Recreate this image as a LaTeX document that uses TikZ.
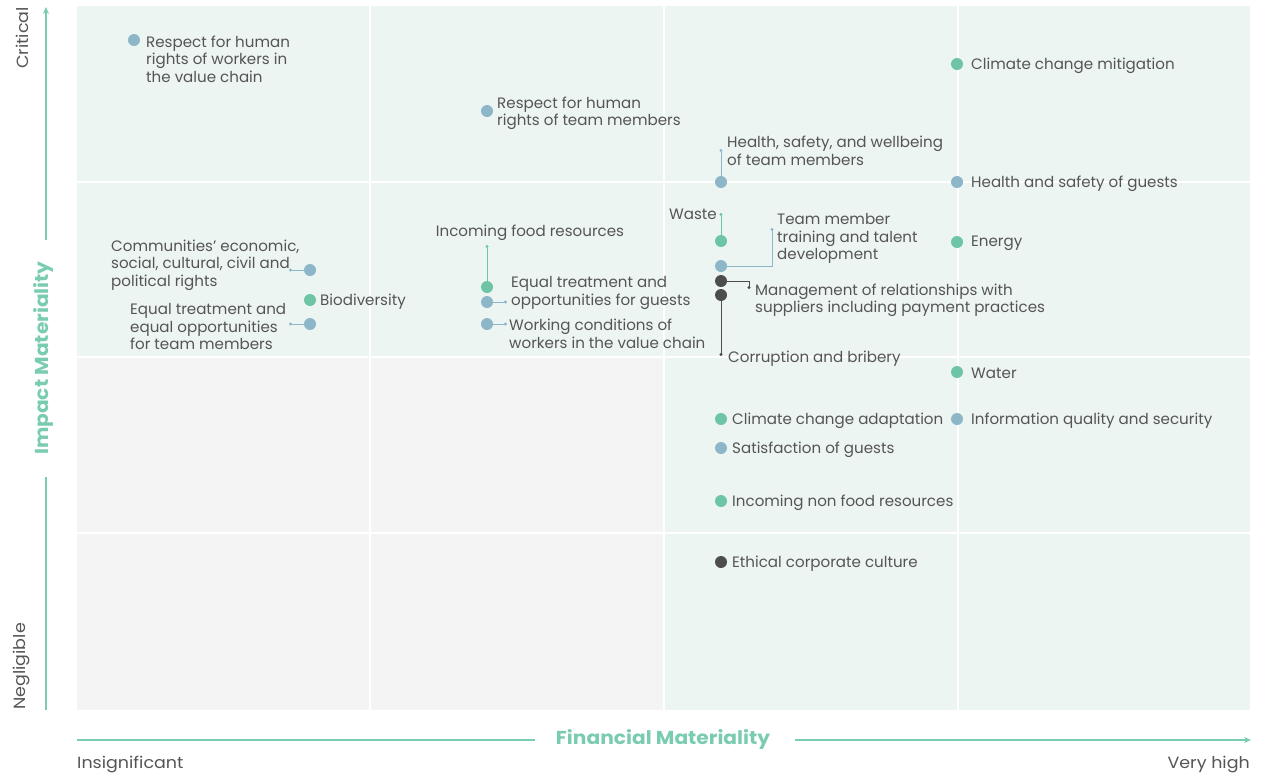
\documentclass[tikz,border=0pt]{standalone}
\usepackage{fontspec}
\setmainfont{Poppins}
\newfontfamily\axfont{Poppins}[FakeStretch=1.08]
\usetikzlibrary{arrows.meta}
\definecolor{bggreen}{HTML}{EDF5F2}
\definecolor{bggray}{HTML}{F4F4F4}
\definecolor{dotgreen}{HTML}{6DC5A5}
\definecolor{dotblue}{HTML}{8DB6C9}
\definecolor{dotdark}{HTML}{4D4D4F}
\definecolor{axisgreen}{HTML}{7ACCB0}
\definecolor{txt}{HTML}{555555}
\tikzset{
  dot/.style={circle,inner sep=0pt,minimum size=12pt},
  gdot/.style={dot,fill=dotgreen},
  bdot/.style={dot,fill=dotblue},
  kdot/.style={dot,fill=dotdark},
  lbl/.style={inner sep=0pt,text=txt,font=\fontsize{15.1}{17.5}\selectfont,align=left,yshift=-1.5pt},
  conn/.style={line width=1pt,-{Circle[length=3pt]}},
  axlbl/.style={inner sep=0pt,text=txt,font=\axfont\fontsize{16.2}{18}\selectfont},
  axtitle/.style={inner sep=0pt,text=axisgreen,font=\axfont\fontsize{18.7}{20}\selectfont\bfseries},
}
\begin{document}
\begin{tikzpicture}[x=1pt,y=-1pt]
\useasboundingbox (0,0) rectangle (1268,772);
% background
\fill[bggreen] (77,6) rectangle (1250,710);
\fill[bggray] (77,357) rectangle (664,710);
\foreach \x in {370,664,958} \draw[white,line width=2pt] (\x,6) -- (\x,710);
\foreach \y in {182,357,533} \draw[white,line width=2pt] (77,\y) -- (1250,\y);
% axes
\coordinate (ya0) at (46,710);
\coordinate (ya1) at (46,477);
\coordinate (ya2) at (46,240);
\coordinate (ya3) at (46,7);
\draw[axisgreen,line width=1.5pt] (ya0) -- (ya1);
\draw[axisgreen,line width=1.5pt,-{Stealth[length=7pt,width=6pt]}] (ya2) -- (ya3);
\node[axtitle,rotate=90] (ytitle) at (43,358) {Impact Materiality};
\node[axlbl,rotate=90,anchor=east] (crit) at (22,7) {Critical};
\node[axlbl,rotate=90,anchor=west] (negl) at (22,710) {Negligible};
\coordinate (xa0) at (77,740);
\coordinate (xa1) at (535,740);
\coordinate (xa2) at (795,740);
\coordinate (xa3) at (1251,740);
\draw[axisgreen,line width=1.5pt] (xa0) -- (xa1);
\draw[axisgreen,line width=1.5pt,-{Stealth[length=7pt,width=6pt]}] (xa2) -- (xa3);
\node[axtitle] (xtitle) at (663,739) {Financial Materiality};
\node[axlbl,anchor=base west] (insig) at (77,768) {Insignificant};
\node[axlbl,anchor=base east] (vhigh) at (1250,768) {Very high};
% dots
\node[bdot] (rhwvc) at (134,40) {};
\node[bdot] (rhtm) at (487,111) {};
\node[gdot] (ccm) at (957,64) {};
\node[bdot] (hstm) at (721,182) {};
\node[bdot] (hsg) at (957,182) {};
\node[gdot] (waste) at (721,241) {};
\node[bdot] (train) at (721,266) {};
\node[gdot] (energy) at (957,242) {};
\node[kdot] (mgmt) at (721,281) {};
\node[kdot] (corr) at (721,295) {};
\node[gdot] (water) at (957,372) {};
\node[gdot] (cca) at (721,419) {};
\node[bdot] (iqs) at (957,419) {};
\node[bdot] (sog) at (721,448) {};
\node[gdot] (infr) at (721,501) {};
\node[kdot] (ecc) at (721,562) {};
\node[gdot] (ifr) at (487,287) {};
\node[bdot] (etg) at (487,302) {};
\node[bdot] (wcw) at (487,324) {};
\node[bdot] (comm) at (310,270) {};
\node[gdot] (bio) at (310,300) {};
\node[bdot] (ettm) at (310,324) {};
% labels
\node[lbl,anchor=west] (t-rhwvc) at (146,57.5) {Respect for human\\rights of workers in\\the value chain};
\node[lbl,anchor=west] (t-rhtm) at (497,112) {Respect for human\\rights of team members};
\node[lbl,anchor=west] (t-ccm) at (971,64) {Climate change mitigation};
\node[lbl,anchor=west] (t-hstm) at (727,149.5) {Health, safety, and wellbeing\\of team members};
\node[lbl,anchor=west] (t-hsg) at (971,182) {Health and safety of guests};
\node[lbl,anchor=east] (t-waste) at (717,213) {Waste};
\node[lbl,anchor=west] (t-train) at (777,237) {Team member\\training and talent\\development};
\node[lbl,anchor=west] (t-energy) at (971,242) {Energy};
\node[lbl,anchor=west] (t-mgmt) at (755,299) {Management of relationships with\\suppliers including payment practices};
\node[lbl,anchor=west] (t-corr) at (728,357) {Corruption and bribery};
\node[lbl,anchor=west] (t-water) at (971,372) {Water};
\node[lbl,anchor=west] (t-cca) at (732,419) {Climate change adaptation};
\node[lbl,anchor=west] (t-iqs) at (971,419) {Information quality and security};
\node[lbl,anchor=west] (t-sog) at (732,448) {Satisfaction of guests};
\node[lbl,anchor=west] (t-infr) at (732,501) {Incoming non food resources};
\node[lbl,anchor=west] (t-ecc) at (732,562) {Ethical corporate culture};
\node[lbl] (t-ifr) at (530,231) {Incoming food resources};
\node[lbl,anchor=west] (t-etg) at (511,291.5) {Equal treatment and\\opportunities for guests};
\node[lbl,anchor=west] (t-wcw) at (509,332.5) {Working conditions of\\workers in the value chain};
\node[lbl,anchor=west] (t-comm) at (111,263.5) {Communities’ economic,\\social, cultural, civil and\\political rights};
\node[lbl,anchor=west] (t-bio) at (320,300) {Biodiversity};
\node[lbl,anchor=west] (t-ettm) at (130,325) {Equal treatment and\\equal opportunities\\for team members};
% connector ends
\coordinate (e-hstm) at (721,149);
\coordinate (e-waste) at (721,213);
\coordinate (e-train) at (772,228);
\coordinate (e-mgmt) at (749,289);
\coordinate (e-corr) at (721,356);
\coordinate (e-ifr) at (487,245);
\coordinate (e-etg) at (507,302);
\coordinate (e-wcw) at (507,324);
\coordinate (e-comm) at (289,270);
\coordinate (e-ettm) at (289,324);
% connectors
\draw[conn,dotblue] (hstm) -- (e-hstm);
\draw[conn,dotgreen] (waste) -- (e-waste);
\draw[conn,dotblue] (train.east) -| (e-train);
\draw[conn,dotdark] (mgmt.east) -| (e-mgmt);
\draw[conn,dotdark] (corr) -- (e-corr);
\draw[conn,dotgreen] (ifr) -- (e-ifr);
\draw[conn,dotblue] (etg) -- (e-etg);
\draw[conn,dotblue] (wcw) -- (e-wcw);
\draw[conn,dotblue] (comm) -- (e-comm);
\draw[conn,dotblue] (ettm) -- (e-ettm);
\end{tikzpicture}
\end{document}
